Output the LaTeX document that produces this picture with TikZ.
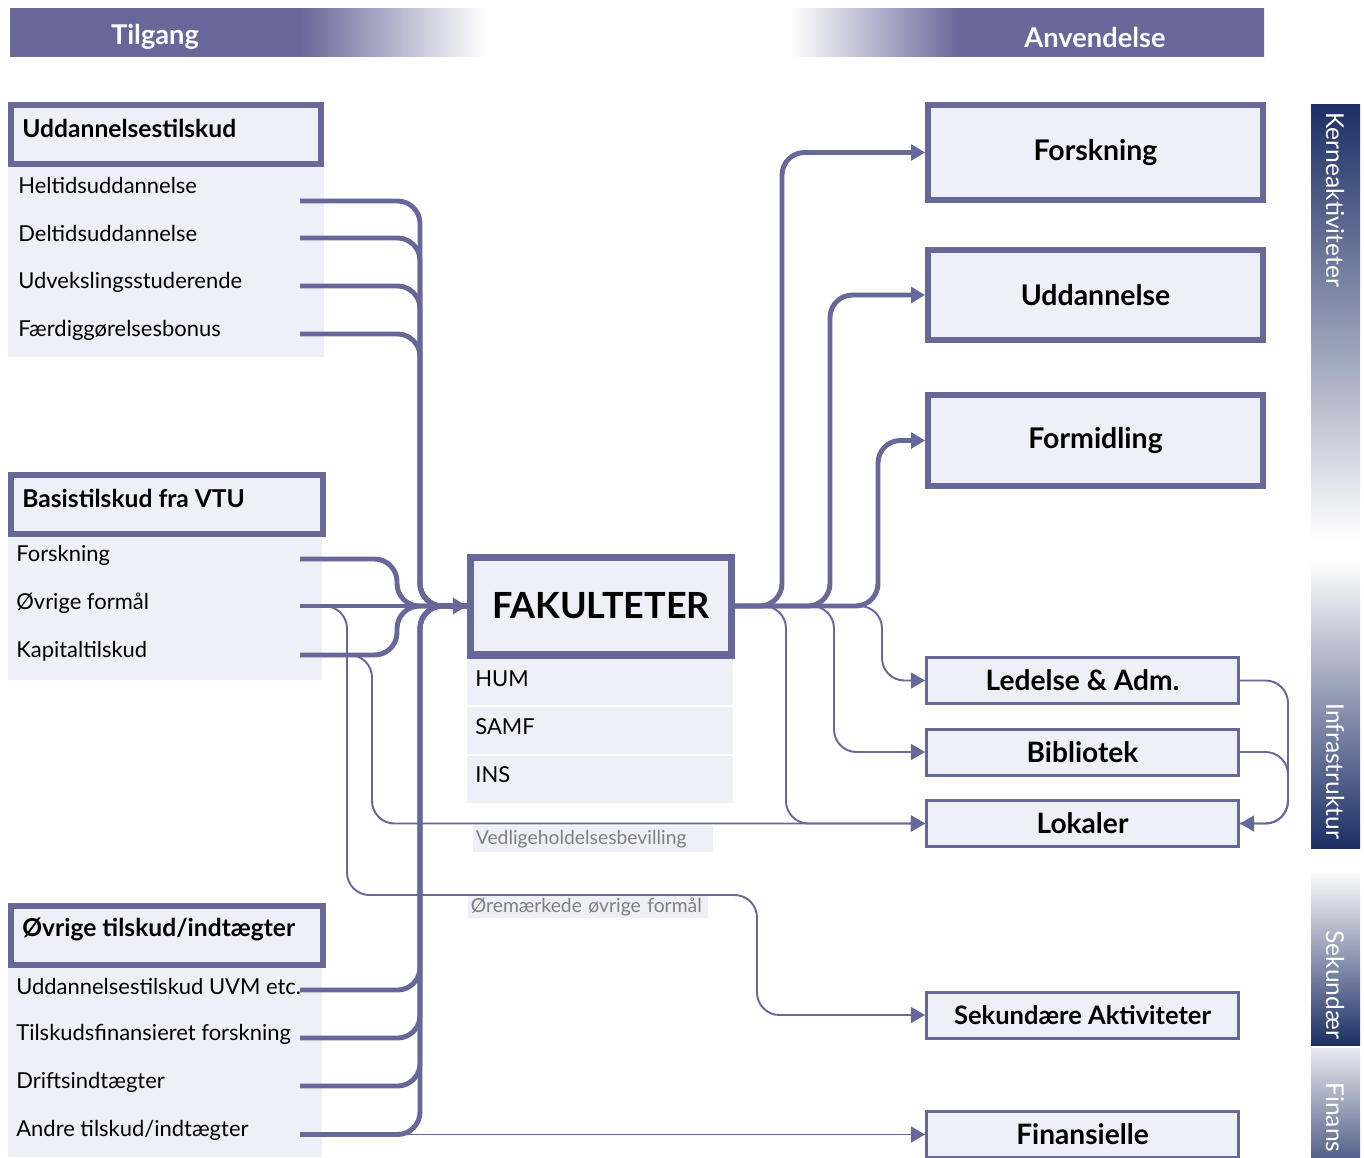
\documentclass[tikz,border=0pt]{standalone}
\usepackage{fontspec}
\setmainfont{Lato}
\usepackage{xcolor}
\usepackage{tikz}
\usetikzlibrary{shapes,arrows.meta}
\usetikzlibrary{positioning}
\definecolor{mainpurple}{RGB}{103,103,154}
\definecolor{lightfill}{RGB}{239,239,248}
\definecolor{navy}{RGB}{28,46,100}
\definecolor{labelgray}{RGB}{128,128,128}
\pgfdeclarehorizontalshading{tilgangfade}{100bp}{color(0bp)=(mainpurple);
  color(55.5bp)=(mainpurple); color(75bp)=(white); color(100bp)=(white)}
\pgfdeclarehorizontalshading{anvfade}{100bp}{color(0bp)=(white);
  color(25bp)=(white); color(43bp)=(mainpurple); color(100bp)=(mainpurple)}
\tikzstyle{bartitle} = [text=white, font=\bfseries\fontsize{15.5}{18}\selectfont]
\tikzstyle{sidetext} = [text=white, rotate=-90, anchor=west, inner sep=0pt,
                        font=\fontsize{14}{16}\selectfont]
\tikzstyle{grouphead} = [rectangle, draw=mainpurple, line width=3.4pt,
                         fill=lightfill, minimum height=1.18cm]
\tikzstyle{headtext} = [anchor=west, inner sep=0pt,
                        font=\bfseries\fontsize{14}{16}\selectfont]
\tikzstyle{item} = [anchor=west, inner sep=0pt, font=\fontsize{12.5}{15}\selectfont]
\tikzstyle{bigbox} = [rectangle, draw=mainpurple, line width=3.4pt, fill=lightfill,
                      minimum width=6.7cm, font=\bfseries\fontsize{16.2}{19}\selectfont]
\tikzstyle{smallbox} = [rectangle, draw=mainpurple, line width=1.7pt, fill=lightfill,
                        minimum width=6.24cm, minimum height=0.92cm,
                        font=\bfseries\fontsize{16}{19}\selectfont]
\tikzstyle{notelabel} = [fill=lightfill, text=labelgray, anchor=west, inner xsep=0.05cm,
                         inner ysep=0pt, text width=4.7cm, align=left,
                         font=\fontsize{11}{13}\selectfont]
\tikzstyle{bus} = [draw=mainpurple, line width=2.8pt, rounded corners=0.45cm]
\tikzstyle{feed} = [bus, -{Triangle[length=8pt, width=9pt]}]
\tikzstyle{thinline} = [draw=mainpurple, line width=1.1pt, rounded corners=0.45cm]
\tikzstyle{thinfeed} = [thinline, -{Triangle[length=8pt, width=9pt]}]
\begin{document}
\begin{tikzpicture}[x=0.02cm, y=-0.02cm]
  \useasboundingbox (0,0) rectangle (1364,1157);
  % Header bars
  \shade[shading=tilgangfade] (10,8) rectangle (485,56);
  \shade[shading=anvfade] (790,8) rectangle (1264,56);
  \node[bartitle] (tilgang) at (155,37) {Tilgang};
  \node[bartitle] (anvendelse) at (1095,37) {Anvendelse};
  % Side bars
  \shade[top color=navy, bottom color=white] (1311,104) rectangle (1360,540);
  \shade[top color=white, bottom color=navy] (1311,560) rectangle (1360,848);
  \shade[top color=white, bottom color=navy] (1311,870) rectangle (1360,1045);
  \shade[top color=white!90!navy, bottom color=navy!75!white] (1311,1048) rectangle (1360,1157);
  \node[sidetext] (kerne) at (1335,112) {Kerneaktiviteter};
  \node[sidetext] (infra) at (1335,703) {Infrastruktur};
  \node[sidetext] (sekbar) at (1335,930) {Sekundær};
  \node[sidetext] (finbar) at (1335,1082) {Finans};
  % Item backgrounds
  \fill[lightfill] (8,167) rectangle (324,357);
  \fill[lightfill] (8,537) rectangle (322,680);
  \fill[lightfill] (8,968) rectangle (322,1157);
  \fill[lightfill] (467,658) rectangle (733,705);
  \fill[lightfill] (467,707) rectangle (733,754);
  \fill[lightfill] (467,756) rectangle (733,803);
  % Place nodes
  \node[grouphead, minimum width=6.2cm] (uddhead) at (166,134.5) {};
  \node[headtext] (uddtext) at (22,128) {Uddannelsestilskud};
  \node[item] (helttext) at (18,185) {Heltidsuddannelse};
  \node[item] (delttext) at (18,233) {Deltidsuddannelse};
  \node[item] (udvtext) at (18,282) {Udvekslingsstuderende};
  \node[item] (faerdtext) at (18,330) {Færdiggørelsesbonus};
  \node[grouphead, minimum width=6.24cm] (vtuhead) at (167,504.5) {};
  \node[headtext] (vtutext) at (22,498) {Basistilskud fra VTU};
  \node[item] (forsktext) at (16,555) {Forskning};
  \node[item] (ovrtext) at (16,603) {Øvrige formål};
  \node[item] (kaptext) at (16,651) {Kapitaltilskud};
  \node[grouphead, minimum width=6.24cm] (andhead) at (167,935.5) {};
  \node[headtext] (andtext) at (22,929) {Øvrige tilskud/indtægter};
  \node[item] (uvmtext) at (16,986) {Uddannelsestilskud UVM etc.};
  \node[item] (tilstext) at (16,1034) {Tilskudsfinansieret forskning};
  \node[item] (drifttext) at (16,1082) {Driftsindtægter};
  \node[item] (andretext) at (16,1130) {Andre tilskud/indtægter};
  \node[rectangle, draw=mainpurple, line width=4pt, fill=lightfill,
        minimum width=5.22cm, minimum height=1.96cm,
        font=\bfseries\fontsize{20.5}{24}\selectfont] (fak) at (601,606) {FAKULTETER};
  \node[item] (hum) at (475,679) {HUM};
  \node[item] (samf) at (475,727) {SAMF};
  \node[item] (ins) at (475,775) {INS};
  \node[notelabel, minimum height=0.52cm] (vedl) at (473,839) {Vedligeholdelsesbevilling};
  \node[notelabel, minimum height=0.44cm] (orem) at (468,907) {Øremærkede øvrige formål};
  \node[bigbox, minimum height=1.9cm] (forsk) at (1095.5,152.5) {Forskning};
  \node[bigbox, minimum height=1.8cm] (udd) at (1095.5,295) {Uddannelse};
  \node[bigbox, minimum height=1.82cm] (formid) at (1095.5,440.5) {Formidling};
  \node[smallbox] (led) at (1082.5,680.5) {Ledelse \& Adm.};
  \node[smallbox] (bib) at (1082.5,752) {Bibliotek};
  \node[smallbox] (lok) at (1082.5,823.5) {Lokaler};
  \node[smallbox, font=\bfseries\fontsize{14.5}{17}\selectfont] (sek) at (1082.5,1015) {Sekundære Aktiviteter};
  \node[smallbox] (fin) at (1082.5,1134.5) {Finansielle};
  % Line starts
  \coordinate (helt) at (300,201);
  \coordinate (delt) at (300,238);
  \coordinate (udv) at (300,286);
  \coordinate (faerd) at (300,334);
  \coordinate (vforsk) at (300,559);
  \coordinate (ovr) at (300,606);
  \coordinate (kap) at (300,655);
  \coordinate (uvm) at (300,990);
  \coordinate (tils) at (300,1038);
  \coordinate (drift) at (300,1086);
  \coordinate (andre) at (300,1134.5);
  % Draw edges
  \draw[bus] (helt) -| (420,606) -- (fak.west);
  \draw[bus] (delt) -| (420,606) -- (fak.west);
  \draw[bus] (udv) -| (420,606) -- (fak.west);
  \draw[bus] (faerd) -| (420,606) -- (fak.west);
  \draw[bus] (vforsk) -- (397,559) |- (fak.west);
  \draw[bus] (kap) -- (397,655) |- (fak.west);
  \draw[bus] (uvm) -| (420,606) -- (fak.west);
  \draw[bus] (tils) -| (420,606) -- (fak.west);
  \draw[bus] (drift) -| (420,606) -- (fak.west);
  \draw[bus] (andre) -| (420,606) -- (fak.west);
  \draw[feed] (ovr) -- (fak.west);
  \draw[thinfeed] (andre) -- (fin.west);
  \draw[thinfeed] (320,606) -- (347,606) -- (347,895) -- (757,895) |- (sek.west);
  \draw[thinfeed] (350,655) -- (372,655) |- (lok.west);
  \draw[feed] (fak.east) -- ++(47,0) |- (forsk.west);
  \draw[feed] (fak.east) -- ++(95,0) |- (udd.west);
  \draw[feed] (fak.east) -- ++(143,0) |- (formid.west);
  \draw[thinfeed] (fak.east) -- ++(147,0) |- (led.west);
  \draw[thinfeed] (fak.east) -- ++(99,0) |- (bib.west);
  \draw[thinfeed] (fak.east) -- ++(51,0) |- (lok.west);
  \draw[thinfeed] (led.east) -- ++(48,0) |- (lok.east);
  \draw[thinline] (bib.east) -- ++(48,0) |- (lok.east);
\end{tikzpicture}
\end{document}
